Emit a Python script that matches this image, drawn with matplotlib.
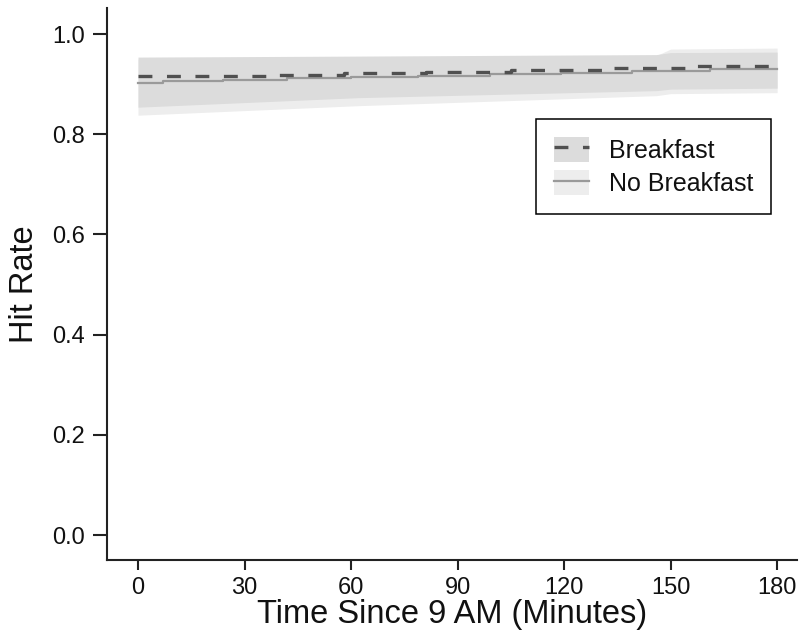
import matplotlib
matplotlib.use("Agg")
import matplotlib.pyplot as plt
from matplotlib.patches import Patch
from matplotlib.lines import Line2D
from matplotlib.legend_handler import HandlerTuple

plt.rcParams['font.family'] = ['Liberation Sans', 'DejaVu Sans']
plt.rcParams['lines.scale_dashes'] = False

# ---- data ----
x_ticks = [0, 30, 60, 90, 120, 150, 180]
y_ticks = [0.0, 0.2, 0.4, 0.6, 0.8, 1.0]

# Breakfast fitted line (stepped)
bf_x = [0, 39, 58, 81, 105, 131, 157, 180]
bf_y = [0.916, 0.919, 0.922, 0.925, 0.928, 0.932, 0.936, 0.936]

# No Breakfast fitted line (stepped)
nb_x = [0, 7, 24, 42, 60, 79, 99, 119, 139, 161, 180]
nb_y = [0.903, 0.906, 0.909, 0.912, 0.915, 0.917, 0.920, 0.922, 0.926, 0.930, 0.930]

# confidence bands
band_x = [0, 62, 146, 150, 180]
bf_lo = [0.854, 0.873, 0.887, 0.890, 0.892]
bf_hi = [0.954, 0.956, 0.959, 0.963, 0.964]
nb_lo = [0.838, 0.857, 0.877, 0.881, 0.883]
nb_hi = [0.950, 0.953, 0.957, 0.970, 0.972]

labels = ["Breakfast", "No Breakfast"]

# ---- styles ----
bf_band_col = '#dcdcdc'
nb_band_col = '#ededed'
bf_line_col = '#505050'
nb_line_col = '#9a9a9a'
bf_dash = (0, (10, 10.5))

fig = plt.figure(figsize=(8.01, 6.35), dpi=100)
ax = fig.add_axes([107/801, 1 - 560/635, 690/801, 552/635])

ax.fill_between(band_x, nb_lo, nb_hi, color=nb_band_col, lw=0, zorder=1)
ax.fill_between(band_x, bf_lo, bf_hi, color=bf_band_col, lw=0, zorder=2)
ax.plot(nb_x, nb_y, drawstyle='steps-post', color=nb_line_col, lw=1.6, zorder=3)
ax.plot(bf_x, bf_y, drawstyle='steps-post', color=bf_line_col, lw=2.4,
        linestyle=bf_dash, zorder=4)

ax.set_xlim(-8.73, 185.6)
ax.set_ylim(-0.0499, 1.052)
ax.set_xticks(x_ticks)
ax.set_xticklabels([str(v) for v in x_ticks])
ax.set_yticks(y_ticks)
ax.set_yticklabels([f"{v:.1f}" for v in y_ticks])

for s in ['top', 'right']:
    ax.spines[s].set_visible(False)
for s in ['left', 'bottom']:
    ax.spines[s].set_linewidth(1.5)
    ax.spines[s].set_color('#222222')

ax.tick_params(axis='both', direction='out', width=1.5, color='#222222',
               labelsize=17, labelcolor='#111111')
ax.tick_params(axis='y', length=10, pad=5.8)
ax.tick_params(axis='x', length=7.2, pad=5.4)

ax.set_xlabel("Time Since 9 AM (Minutes)", fontsize=23.5, color='#111111')
ax.set_ylabel("Hit Rate", fontsize=23.5, color='#111111')
ax.yaxis.set_label_coords(-0.097, 0.5)
ax.xaxis.set_label_coords(0.5, -0.071)
ax.xaxis.label.set_va('top')

handles = [
    (Patch(facecolor=bf_band_col, edgecolor='none'),
     Line2D([], [], color=bf_line_col, lw=2.4, linestyle=bf_dash)),
    (Patch(facecolor=nb_band_col, edgecolor='none'),
     Line2D([], [], color=nb_line_col, lw=1.6)),
]
leg = ax.legend(handles, labels, handler_map={tuple: HandlerTuple(ndivide=1, pad=0)},
                loc='upper left', bbox_to_anchor=(536/801, 1 - 119/635),
                bbox_transform=fig.transFigure, borderaxespad=0,
                fontsize=18, handlelength=1.4, handleheight=1.16,
                labelspacing=0.3, handletextpad=0.8, borderpad=0.72,
                fancybox=False, framealpha=1, edgecolor='black')
leg.get_frame().set_linewidth(1.1)
for t in leg.get_texts():
    t.set_color('#111111')

fig.savefig("out.png", dpi=100)
